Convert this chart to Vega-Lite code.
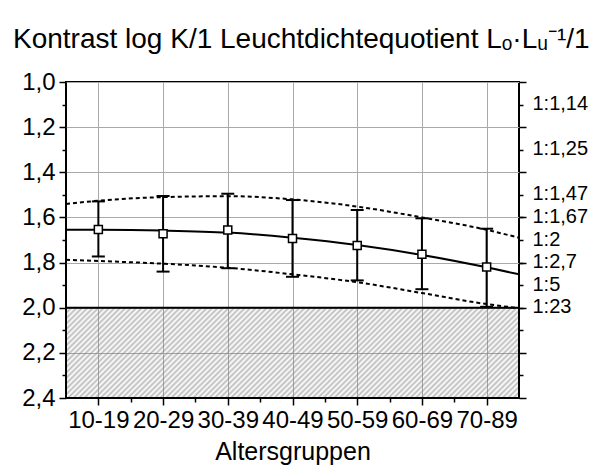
{
  "$schema": "https://vega.github.io/schema/vega-lite/v6.json",
  "width": 453,
  "height": 316,
  "autosize": {"type": "none"},
  "padding": {"left": 66, "top": 82, "right": 86, "bottom": 77},
  "background": "white",
  "title": {
    "text": "Kontrast log K/1 Leuchtdichtequotient Lₒ·Lᵤ⁻¹/1",
    "anchor": "start",
    "frame": "group",
    "orient": "top",
    "fontSize": 28,
    "fontWeight": "normal",
    "font": "Liberation Sans",
    "color": "black",
    "baseline": "alphabetic",
    "offset": 0,
    "dx": -53,
    "dy": 6
  },
  "datasets": {
    "groups": [
      {"g": "10-19", "i": 0, "m": 1.653, "lo": 1.773, "hi": 1.529},
      {"g": "20-29", "i": 1, "m": 1.672, "lo": 1.840, "hi": 1.505},
      {"g": "30-39", "i": 2, "m": 1.656, "lo": 1.825, "hi": 1.495},
      {"g": "40-49", "i": 3, "m": 1.693, "lo": 1.863, "hi": 1.523},
      {"g": "50-59", "i": 4, "m": 1.724, "lo": 1.879, "hi": 1.567},
      {"g": "60-69", "i": 5, "m": 1.763, "lo": 1.918, "hi": 1.604},
      {"g": "70-89", "i": 6, "m": 1.820, "lo": 1.996, "hi": 1.650}
    ],
    "curves": [
      {"x": -0.5, "fit": 1.655, "upper": 1.540, "lower": 1.788},
      {"x": 0, "fit": 1.655, "upper": 1.526, "lower": 1.793},
      {"x": 1, "fit": 1.658, "upper": 1.510, "lower": 1.805},
      {"x": 2, "fit": 1.667, "upper": 1.506, "lower": 1.823},
      {"x": 3, "fit": 1.690, "upper": 1.520, "lower": 1.852},
      {"x": 4, "fit": 1.722, "upper": 1.552, "lower": 1.887},
      {"x": 5, "fit": 1.766, "upper": 1.600, "lower": 1.935},
      {"x": 6, "fit": 1.821, "upper": 1.655, "lower": 1.984},
      {"x": 6.5, "fit": 1.852, "upper": 1.690, "lower": 2.002}
    ],
    "zone": [{"from": 2.0, "to": 2.4}]
  },
  "resolve": {"axis": {"x": "independent", "y": "independent"}},
  "layer": [
    {
      "data": {"name": "zone"},
      "mark": {
        "type": "rect",
        "stroke": "black",
        "strokeWidth": 2,
        "fill": {
          "gradient": "linear",
          "x1": 0, "y1": 0, "x2": 1.153, "y2": 0.2298,
          "stops": [
            {"offset":0,"color":"#7a7a7a80"},{"offset":0.005,"color":"#7a7a7a00"},
            {"offset":0.01,"color":"#7a7a7a80"},{"offset":0.015,"color":"#7a7a7a00"},
            {"offset":0.02,"color":"#7a7a7a80"},{"offset":0.025,"color":"#7a7a7a00"},
            {"offset":0.03,"color":"#7a7a7a80"},{"offset":0.035,"color":"#7a7a7a00"},
            {"offset":0.04,"color":"#7a7a7a80"},{"offset":0.045,"color":"#7a7a7a00"},
            {"offset":0.05,"color":"#7a7a7a80"},{"offset":0.055,"color":"#7a7a7a00"},
            {"offset":0.06,"color":"#7a7a7a80"},{"offset":0.065,"color":"#7a7a7a00"},
            {"offset":0.07,"color":"#7a7a7a80"},{"offset":0.075,"color":"#7a7a7a00"},
            {"offset":0.08,"color":"#7a7a7a80"},{"offset":0.085,"color":"#7a7a7a00"},
            {"offset":0.09,"color":"#7a7a7a80"},{"offset":0.095,"color":"#7a7a7a00"},
            {"offset":0.1,"color":"#7a7a7a80"},{"offset":0.105,"color":"#7a7a7a00"},
            {"offset":0.11,"color":"#7a7a7a80"},{"offset":0.115,"color":"#7a7a7a00"},
            {"offset":0.12,"color":"#7a7a7a80"},{"offset":0.125,"color":"#7a7a7a00"},
            {"offset":0.13,"color":"#7a7a7a80"},{"offset":0.135,"color":"#7a7a7a00"},
            {"offset":0.14,"color":"#7a7a7a80"},{"offset":0.145,"color":"#7a7a7a00"},
            {"offset":0.15,"color":"#7a7a7a80"},{"offset":0.155,"color":"#7a7a7a00"},
            {"offset":0.16,"color":"#7a7a7a80"},{"offset":0.165,"color":"#7a7a7a00"},
            {"offset":0.17,"color":"#7a7a7a80"},{"offset":0.175,"color":"#7a7a7a00"},
            {"offset":0.18,"color":"#7a7a7a80"},{"offset":0.185,"color":"#7a7a7a00"},
            {"offset":0.19,"color":"#7a7a7a80"},{"offset":0.195,"color":"#7a7a7a00"},
            {"offset":0.2,"color":"#7a7a7a80"},{"offset":0.205,"color":"#7a7a7a00"},
            {"offset":0.21,"color":"#7a7a7a80"},{"offset":0.215,"color":"#7a7a7a00"},
            {"offset":0.22,"color":"#7a7a7a80"},{"offset":0.225,"color":"#7a7a7a00"},
            {"offset":0.23,"color":"#7a7a7a80"},{"offset":0.235,"color":"#7a7a7a00"},
            {"offset":0.24,"color":"#7a7a7a80"},{"offset":0.245,"color":"#7a7a7a00"},
            {"offset":0.25,"color":"#7a7a7a80"},{"offset":0.255,"color":"#7a7a7a00"},
            {"offset":0.26,"color":"#7a7a7a80"},{"offset":0.265,"color":"#7a7a7a00"},
            {"offset":0.27,"color":"#7a7a7a80"},{"offset":0.275,"color":"#7a7a7a00"},
            {"offset":0.28,"color":"#7a7a7a80"},{"offset":0.285,"color":"#7a7a7a00"},
            {"offset":0.29,"color":"#7a7a7a80"},{"offset":0.295,"color":"#7a7a7a00"},
            {"offset":0.3,"color":"#7a7a7a80"},{"offset":0.305,"color":"#7a7a7a00"},
            {"offset":0.31,"color":"#7a7a7a80"},{"offset":0.315,"color":"#7a7a7a00"},
            {"offset":0.32,"color":"#7a7a7a80"},{"offset":0.325,"color":"#7a7a7a00"},
            {"offset":0.33,"color":"#7a7a7a80"},{"offset":0.335,"color":"#7a7a7a00"},
            {"offset":0.34,"color":"#7a7a7a80"},{"offset":0.345,"color":"#7a7a7a00"},
            {"offset":0.35,"color":"#7a7a7a80"},{"offset":0.355,"color":"#7a7a7a00"},
            {"offset":0.36,"color":"#7a7a7a80"},{"offset":0.365,"color":"#7a7a7a00"},
            {"offset":0.37,"color":"#7a7a7a80"},{"offset":0.375,"color":"#7a7a7a00"},
            {"offset":0.38,"color":"#7a7a7a80"},{"offset":0.385,"color":"#7a7a7a00"},
            {"offset":0.39,"color":"#7a7a7a80"},{"offset":0.395,"color":"#7a7a7a00"},
            {"offset":0.4,"color":"#7a7a7a80"},{"offset":0.405,"color":"#7a7a7a00"},
            {"offset":0.41,"color":"#7a7a7a80"},{"offset":0.415,"color":"#7a7a7a00"},
            {"offset":0.42,"color":"#7a7a7a80"},{"offset":0.425,"color":"#7a7a7a00"},
            {"offset":0.43,"color":"#7a7a7a80"},{"offset":0.435,"color":"#7a7a7a00"},
            {"offset":0.44,"color":"#7a7a7a80"},{"offset":0.445,"color":"#7a7a7a00"},
            {"offset":0.45,"color":"#7a7a7a80"},{"offset":0.455,"color":"#7a7a7a00"},
            {"offset":0.46,"color":"#7a7a7a80"},{"offset":0.465,"color":"#7a7a7a00"},
            {"offset":0.47,"color":"#7a7a7a80"},{"offset":0.475,"color":"#7a7a7a00"},
            {"offset":0.48,"color":"#7a7a7a80"},{"offset":0.485,"color":"#7a7a7a00"},
            {"offset":0.49,"color":"#7a7a7a80"},{"offset":0.495,"color":"#7a7a7a00"},
            {"offset":0.5,"color":"#7a7a7a80"},{"offset":0.505,"color":"#7a7a7a00"},
            {"offset":0.51,"color":"#7a7a7a80"},{"offset":0.515,"color":"#7a7a7a00"},
            {"offset":0.52,"color":"#7a7a7a80"},{"offset":0.525,"color":"#7a7a7a00"},
            {"offset":0.53,"color":"#7a7a7a80"},{"offset":0.535,"color":"#7a7a7a00"},
            {"offset":0.54,"color":"#7a7a7a80"},{"offset":0.545,"color":"#7a7a7a00"},
            {"offset":0.55,"color":"#7a7a7a80"},{"offset":0.555,"color":"#7a7a7a00"},
            {"offset":0.56,"color":"#7a7a7a80"},{"offset":0.565,"color":"#7a7a7a00"},
            {"offset":0.57,"color":"#7a7a7a80"},{"offset":0.575,"color":"#7a7a7a00"},
            {"offset":0.58,"color":"#7a7a7a80"},{"offset":0.585,"color":"#7a7a7a00"},
            {"offset":0.59,"color":"#7a7a7a80"},{"offset":0.595,"color":"#7a7a7a00"},
            {"offset":0.6,"color":"#7a7a7a80"},{"offset":0.605,"color":"#7a7a7a00"},
            {"offset":0.61,"color":"#7a7a7a80"},{"offset":0.615,"color":"#7a7a7a00"},
            {"offset":0.62,"color":"#7a7a7a80"},{"offset":0.625,"color":"#7a7a7a00"},
            {"offset":0.63,"color":"#7a7a7a80"},{"offset":0.635,"color":"#7a7a7a00"},
            {"offset":0.64,"color":"#7a7a7a80"},{"offset":0.645,"color":"#7a7a7a00"},
            {"offset":0.65,"color":"#7a7a7a80"},{"offset":0.655,"color":"#7a7a7a00"},
            {"offset":0.66,"color":"#7a7a7a80"},{"offset":0.665,"color":"#7a7a7a00"},
            {"offset":0.67,"color":"#7a7a7a80"},{"offset":0.675,"color":"#7a7a7a00"},
            {"offset":0.68,"color":"#7a7a7a80"},{"offset":0.685,"color":"#7a7a7a00"},
            {"offset":0.69,"color":"#7a7a7a80"},{"offset":0.695,"color":"#7a7a7a00"},
            {"offset":0.7,"color":"#7a7a7a80"},{"offset":0.705,"color":"#7a7a7a00"},
            {"offset":0.71,"color":"#7a7a7a80"},{"offset":0.715,"color":"#7a7a7a00"},
            {"offset":0.72,"color":"#7a7a7a80"},{"offset":0.725,"color":"#7a7a7a00"},
            {"offset":0.73,"color":"#7a7a7a80"},{"offset":0.735,"color":"#7a7a7a00"},
            {"offset":0.74,"color":"#7a7a7a80"},{"offset":0.745,"color":"#7a7a7a00"},
            {"offset":0.75,"color":"#7a7a7a80"},{"offset":0.755,"color":"#7a7a7a00"},
            {"offset":0.76,"color":"#7a7a7a80"},{"offset":0.765,"color":"#7a7a7a00"},
            {"offset":0.77,"color":"#7a7a7a80"},{"offset":0.775,"color":"#7a7a7a00"},
            {"offset":0.78,"color":"#7a7a7a80"},{"offset":0.785,"color":"#7a7a7a00"},
            {"offset":0.79,"color":"#7a7a7a80"},{"offset":0.795,"color":"#7a7a7a00"},
            {"offset":0.8,"color":"#7a7a7a80"},{"offset":0.805,"color":"#7a7a7a00"},
            {"offset":0.81,"color":"#7a7a7a80"},{"offset":0.815,"color":"#7a7a7a00"},
            {"offset":0.82,"color":"#7a7a7a80"},{"offset":0.825,"color":"#7a7a7a00"},
            {"offset":0.83,"color":"#7a7a7a80"},{"offset":0.835,"color":"#7a7a7a00"},
            {"offset":0.84,"color":"#7a7a7a80"},{"offset":0.845,"color":"#7a7a7a00"},
            {"offset":0.85,"color":"#7a7a7a80"},{"offset":0.855,"color":"#7a7a7a00"},
            {"offset":0.86,"color":"#7a7a7a80"},{"offset":0.865,"color":"#7a7a7a00"},
            {"offset":0.87,"color":"#7a7a7a80"},{"offset":0.875,"color":"#7a7a7a00"},
            {"offset":0.88,"color":"#7a7a7a80"},{"offset":0.885,"color":"#7a7a7a00"},
            {"offset":0.89,"color":"#7a7a7a80"},{"offset":0.895,"color":"#7a7a7a00"},
            {"offset":0.9,"color":"#7a7a7a80"},{"offset":0.905,"color":"#7a7a7a00"},
            {"offset":0.91,"color":"#7a7a7a80"},{"offset":0.915,"color":"#7a7a7a00"},
            {"offset":0.92,"color":"#7a7a7a80"},{"offset":0.925,"color":"#7a7a7a00"},
            {"offset":0.93,"color":"#7a7a7a80"},{"offset":0.935,"color":"#7a7a7a00"},
            {"offset":0.94,"color":"#7a7a7a80"},{"offset":0.945,"color":"#7a7a7a00"},
            {"offset":0.95,"color":"#7a7a7a80"},{"offset":0.955,"color":"#7a7a7a00"},
            {"offset":0.96,"color":"#7a7a7a80"},{"offset":0.965,"color":"#7a7a7a00"},
            {"offset":0.97,"color":"#7a7a7a80"},{"offset":0.975,"color":"#7a7a7a00"},
            {"offset":0.98,"color":"#7a7a7a80"},{"offset":0.985,"color":"#7a7a7a00"},
            {"offset":0.99,"color":"#7a7a7a80"},{"offset":0.995,"color":"#7a7a7a00"},
            {"offset":1,"color":"#7a7a7a80"}
          ]
        }
      },
      "encoding": {
        "x": {"datum": -0.5, "type": "quantitative",
          "scale": {"domain": [-0.5, 6.5], "nice": false, "zero": false},
          "axis": {
            "orient": "bottom", "values": [0, 1, 2, 3, 4, 5, 6],
            "labelExpr": "['10-19','20-29','30-39','40-49','50-59','60-69','70-89'][round(datum.value)]",
            "grid": true, "gridColor": "#a9a9a9", "gridWidth": 1,
            "tickSize": 7, "tickWidth": 1.5, "tickColor": "black",
            "labelFontSize": 24, "labelPadding": 3, "labelFlush": false, "labelOverlap": false, "labelBound": false,
            "title": "Altersgruppen", "titleFontSize": 25, "titleFontWeight": "normal", "titlePadding": 7, "titleColor": "black"
          }
        },
        "x2": {"datum": 6.5},
        "y": {"field": "from", "type": "quantitative",
          "scale": {"domain": [1.0, 2.4], "reverse": true, "nice": false, "zero": false},
          "axis": {
            "orient": "left", "values": [1.0, 1.2, 1.4, 1.6, 1.8, 2.0, 2.2, 2.4],
            "labelExpr": "replace(format(datum.value, '.1f'), '.', ',')",
            "grid": true, "gridColor": "#a9a9a9", "gridWidth": 1,
            "tickSize": 7, "tickWidth": 1.5, "tickColor": "black",
            "labelFontSize": 24, "labelPadding": 4, "labelOverlap": false, "labelFlush": false, "labelBound": false,
            "title": null
          }
        },
        "y2": {"field": "to"}
      }
    },
    {
      "data": {"name": "curves"},
      "mark": {"type": "line", "color": "black", "strokeWidth": 2, "strokeDash": [4, 3], "interpolate": "monotone"},
      "encoding": {
        "x": {"field": "x", "type": "quantitative",
          "scale": {"domain": [-0.5, 6.5], "nice": false, "zero": false},
          "axis": {"orient": "bottom", "values": [0.5, 1.5, 2.5, 3.5, 4.5, 5.5], "labels": false, "grid": false,
            "tickSize": 4, "tickWidth": 1.5, "tickColor": "black", "title": null}
        },
        "y": {"field": "upper", "type": "quantitative",
          "scale": {"domain": [1.0, 2.4], "reverse": true, "nice": false, "zero": false},
          "axis": {"orient": "left", "values": [1.1, 1.3, 1.5, 1.7, 1.9, 2.1, 2.3], "labels": false, "grid": false,
            "tickSize": 4, "tickWidth": 1.5, "tickColor": "black", "title": null}
        }
      }
    },
    {
      "data": {"name": "curves"},
      "mark": {"type": "line", "color": "black", "strokeWidth": 2, "strokeDash": [4, 3], "interpolate": "monotone"},
      "encoding": {
        "x": {"field": "x", "type": "quantitative",
          "scale": {"domain": [-0.5, 6.5], "nice": false, "zero": false}, "axis": null},
        "y": {"field": "lower", "type": "quantitative",
          "scale": {"domain": [1.0, 2.4], "reverse": true, "nice": false, "zero": false},
          "axis": {"orient": "right", "values": [1.0, 1.2, 1.4, 1.6, 1.8, 2.0, 2.2, 2.4], "labels": false, "grid": false,
            "tickSize": 7, "tickWidth": 1.5, "tickColor": "black", "title": null}
        }
      }
    },
    {
      "data": {"name": "curves"},
      "mark": {"type": "line", "color": "black", "strokeWidth": 2, "interpolate": "monotone"},
      "encoding": {
        "x": {"field": "x", "type": "quantitative",
          "scale": {"domain": [-0.5, 6.5], "nice": false, "zero": false}, "axis": null},
        "y": {"field": "fit", "type": "quantitative",
          "scale": {"domain": [1.0, 2.4], "reverse": true, "nice": false, "zero": false},
          "axis": {"orient": "right", "values": [1.1, 1.3, 1.5, 1.6, 1.7, 1.8, 1.9, 2.0, 2.1, 2.3],
            "labelExpr": "datum.value < 1.2 ? '1:1,14' : datum.value < 1.4 ? '1:1,25' : datum.value < 1.55 ? '1:1,47' : datum.value < 1.65 ? '1:1,67' : datum.value < 1.75 ? '1:2' : datum.value < 1.85 ? '1:2,7' : datum.value < 1.95 ? '1:5' : datum.value < 2.05 ? '1:23' : ''",
            "grid": false, "tickSize": 4, "tickWidth": 1.5, "tickColor": "black",
            "labelFontSize": 20, "labelPadding": 9, "labelOffset": -1, "labelOverlap": false, "labelFlush": false, "labelBound": false,
            "title": null}
        }
      }
    },
    {
      "data": {"name": "groups"},
      "mark": {"type": "rule", "color": "black", "strokeWidth": 2},
      "encoding": {
        "x": {"field": "i", "type": "quantitative",
          "scale": {"domain": [-0.5, 6.5], "nice": false, "zero": false}, "axis": null},
        "y": {"field": "hi", "type": "quantitative",
          "scale": {"domain": [1.0, 2.4], "reverse": true, "nice": false, "zero": false}, "axis": null},
        "y2": {"field": "lo"}
      }
    },
    {
      "data": {"name": "groups"},
      "mark": {"type": "tick", "orient": "horizontal", "color": "black", "size": 13, "thickness": 2, "opacity": 1},
      "encoding": {
        "x": {"field": "i", "type": "quantitative",
          "scale": {"domain": [-0.5, 6.5], "nice": false, "zero": false}, "axis": null},
        "y": {"field": "hi", "type": "quantitative",
          "scale": {"domain": [1.0, 2.4], "reverse": true, "nice": false, "zero": false}, "axis": null}
      }
    },
    {
      "data": {"name": "groups"},
      "mark": {"type": "tick", "orient": "horizontal", "color": "black", "size": 13, "thickness": 2, "opacity": 1},
      "encoding": {
        "x": {"field": "i", "type": "quantitative",
          "scale": {"domain": [-0.5, 6.5], "nice": false, "zero": false}, "axis": null},
        "y": {"field": "lo", "type": "quantitative",
          "scale": {"domain": [1.0, 2.4], "reverse": true, "nice": false, "zero": false}, "axis": null}
      }
    },
    {
      "data": {"name": "groups"},
      "mark": {"type": "point", "shape": "square", "size": 64, "filled": true, "fill": "white", "stroke": "black", "strokeWidth": 1.5, "opacity": 1},
      "encoding": {
        "x": {"field": "i", "type": "quantitative",
          "scale": {"domain": [-0.5, 6.5], "nice": false, "zero": false}, "axis": null},
        "y": {"field": "m", "type": "quantitative",
          "scale": {"domain": [1.0, 2.4], "reverse": true, "nice": false, "zero": false}, "axis": null}
      }
    }
  ],
  "config": {
    "font": "Liberation Sans",
    "view": {"stroke": "black", "strokeWidth": 2},
    "axis": {"domain": false, "labelColor": "black", "labelFont": "Liberation Sans", "titleFont": "Liberation Sans"}
  }
}
